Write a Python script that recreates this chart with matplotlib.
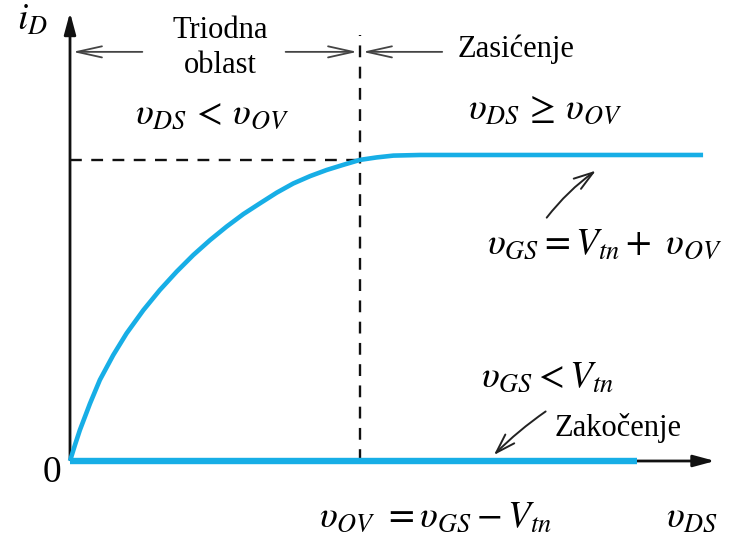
import numpy as np
import matplotlib
matplotlib.use("Agg")
import matplotlib.pyplot as plt

plt.rcParams["font.family"] = "serif"
plt.rcParams["font.serif"] = ["Liberation Serif", "DejaVu Serif"]
plt.rcParams["mathtext.fontset"] = "stix"

# output characteristic, normalised: v_DS in units of v_OV, i_D in units of i_D(sat)
v_ds = [0.0, 0.017, 0.034, 0.069, 0.103, 0.149, 0.195, 0.253, 0.310, 0.368, 0.425,
        0.483, 0.540, 0.598, 0.655, 0.713, 0.770, 0.828, 0.885, 0.943, 1.0, 1.057,
        1.115, 1.207, 2.183]
i_d = [0.0, 0.052, 0.101, 0.188, 0.265, 0.346, 0.417, 0.493, 0.559, 0.619, 0.673,
       0.722, 0.766, 0.807, 0.842, 0.877, 0.907, 0.931, 0.951, 0.968, 0.984, 0.992,
       0.998, 1.0, 1.0]
v_ov = 1.0
i_ov = 0.984
cutoff_end = 1.955

blue = "#17aee6"

fig = plt.figure(figsize=(7.37, 5.34), dpi=100)
ax = fig.add_axes([0, 0, 1, 1])
ax.set_xlim(-0.2414, 2.300)
ax.set_ylim(-0.2386, 1.5065)
ax.axis("off")

# axes with arrowheads
ax.annotate("", xy=(0, 1.475), xytext=(0, -0.005),
            arrowprops=dict(arrowstyle="-|>,head_length=1.3,head_width=0.35", lw=2, color="#111"))
ax.annotate("", xy=(2.234, 0), xytext=(-0.005, 0),
            arrowprops=dict(arrowstyle="-|>,head_length=1.3,head_width=0.35", lw=2, color="#111"))

# dashed guides at v_OV
ax.plot([v_ov, v_ov], [0, 1.392], ls=(0, (5, 4)), color="#111", lw=1.7)
ax.plot([0, v_ov], [i_ov, i_ov], ls=(0, (5, 4)), color="#111", lw=1.7)

# curves
ax.plot(v_ds, i_d, color=blue, lw=3.3, solid_capstyle="butt", solid_joinstyle="round", zorder=3)
ax.plot([0, cutoff_end], [0, 0], color=blue, lw=4.6, solid_capstyle="butt", zorder=3)

# region dimension arrows
dim = dict(arrowstyle="->,head_length=1.8,head_width=0.4", lw=1.3, color="#444")
yd = 1.337
ax.annotate("", xy=(0, yd), xytext=(0.259, yd), arrowprops=dim)
ax.annotate("", xy=(v_ov, yd), xytext=(0.734, yd), arrowprops=dim)
ax.annotate("", xy=(v_ov, yd), xytext=(1.293, yd), arrowprops=dim)

fs = 22
ax.text(0.517, 1.408, "Triodna", ha="center", va="center", fontsize=fs)
ax.text(0.517, 1.291, "oblast", ha="center", va="center", fontsize=fs)
ax.text(1.338, 1.345, "Zasićenje", ha="left", va="center", fontsize=fs)
ax.text(1.890, 0.108, "Zakočenje", ha="center", va="center", fontsize=fs)

ms = 27
ax.text(-0.131, 1.44, r"$i_D$", ha="center", va="center", fontsize=27)
ax.text(-0.062, -0.039, "0", ha="center", va="center", fontsize=27)
ax.text(0.49, 1.131, r"$\upsilon_{DS}\, <\, \upsilon_{OV}$", ha="center", va="center", fontsize=ms)
ax.text(1.638, 1.147, r"$\upsilon_{DS}\, \geq\, \upsilon_{OV}$", ha="center", va="center", fontsize=ms)
ax.text(1.845, 0.706, r"$\upsilon_{GS} = V_{tn} +\ \upsilon_{OV}$", ha="center", va="center", fontsize=ms)
ax.text(1.645, 0.271, r"$\upsilon_{GS} < V_{tn}$", ha="center", va="center", fontsize=ms)
ax.text(1.262, -0.186, r"$\upsilon_{OV}\ = \upsilon_{GS} - V_{tn}$", ha="center", va="center", fontsize=ms)
ax.text(2.145, -0.186, r"$\upsilon_{DS}$", ha="center", va="center", fontsize=ms)

# pointer arrows to the curves
ptr = dict(arrowstyle="->,head_length=1.4,head_width=0.45", lw=1.4, color="#222",
           connectionstyle="arc3,rad=-0.08")
ax.annotate("", xy=(1.821, 0.954), xytext=(1.638, 0.788), arrowprops=ptr)
ax.annotate("", xy=(1.455, 0.013), xytext=(1.648, 0.167),
            arrowprops=dict(ptr, connectionstyle="arc3,rad=0.05"))

fig.savefig("out.png", dpi=100)
